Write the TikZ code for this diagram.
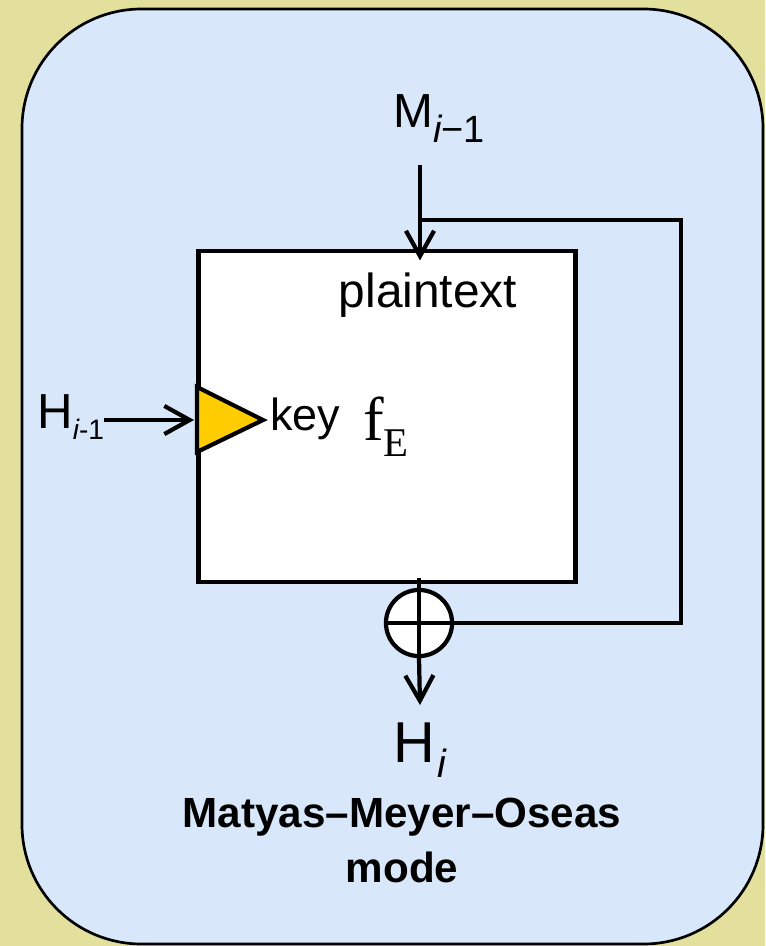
\documentclass[tikz,border=0pt]{standalone}
\usepackage{fontspec}
\setmainfont{Liberation Sans}
\newfontfamily\timesfam{Liberation Serif}
\usetikzlibrary{arrows.meta,positioning}
\definecolor{khaki}{RGB}{227,224,158}
\definecolor{paleblue}{RGB}{216,232,250}
\definecolor{keygold}{RGB}{255,204,0}

\begin{document}
\begin{tikzpicture}[x=0.025cm,y=-0.025cm,
  wire/.style={line width=3pt},
  feed/.style={wire,-{Straight Barb[length=18pt,width=20pt]}},
  lbl/.style={inner sep=0pt,font=\fontsize{34}{40}\selectfont}]
\fill[khaki] (0,0) rectangle (765,946);
\useasboundingbox (0,0) rectangle (765,946);
\filldraw[fill=paleblue,line width=1.9pt,rounded corners=85pt] (22,9) rectangle (763,944);

% cipher box and xor
\node[draw,fill=white,wire,minimum width=268pt,minimum height=235pt,inner sep=0pt] (encbox) at (387,416.5) {};
\node[draw,fill=white,wire,circle,minimum size=47pt,inner sep=0pt] (xor) at (419,623) {};
\filldraw[fill=keygold,wire,line join=miter] (197,387) -- (263,420) -- (197,452) -- cycle;

% labels
\node[lbl,anchor=base] (ptext) at (428,307) {plaintext};
\node[lbl,anchor=base west,font=\fontsize{32}{38}\selectfont] (keytxt) at (270,430) {key};
\node[inner sep=0pt,anchor=base west] (fE) at (363,440) {\timesfam\fontsize{44}{50}\selectfont f\raisebox{-12pt}{\fontsize{29}{32}\selectfont E}};
\node[lbl,anchor=base west] (mlab) at (393,128) {M\raisebox{-10pt}{\fontsize{27}{30}\selectfont\itshape i\upshape −1}};
\node[lbl,anchor=base west,font=\fontsize{35}{40}\selectfont] (hin) at (37,428) {H\raisebox{-8.5pt}{\fontsize{20}{22}\selectfont\itshape i\upshape -1}};
\node[inner sep=0pt,anchor=base west,font=\fontsize{41}{46}\selectfont] (hout) at (393,762) {H\kern2pt\raisebox{-11pt}{\fontsize{28}{30}\selectfont\itshape i}};
\node[inner sep=0pt,anchor=base,font=\bfseries\fontsize{30}{36}\selectfont] (title) at (402,827) {Matyas–Meyer–Oseas};
\node[inner sep=0pt,anchor=base,font=\bfseries\fontsize{30}{36}\selectfont] (modetxt) at (402,882) {mode};

% connectors
\coordinate (mtop) at (420,165);
\coordinate (tap) at (420,220);
\coordinate (fbR) at (681,220);
\coordinate (keyin) at (194,420);
\coordinate (outtip) at (420,705);
\draw[feed] (mtop) -- ([yshift=-8pt]encbox.north -| mtop);
\draw[wire] (tap) -- (fbR) |- (xor.east);
\draw[wire] ([yshift=4pt]encbox.south -| xor.north) -- (xor.south);
\draw[wire] (xor.west) -- (xor.east);
\draw[feed] (xor.south) -- (outtip);
\draw[feed] (hin.east |- keyin) -- (keyin);
\end{tikzpicture}
\end{document}
